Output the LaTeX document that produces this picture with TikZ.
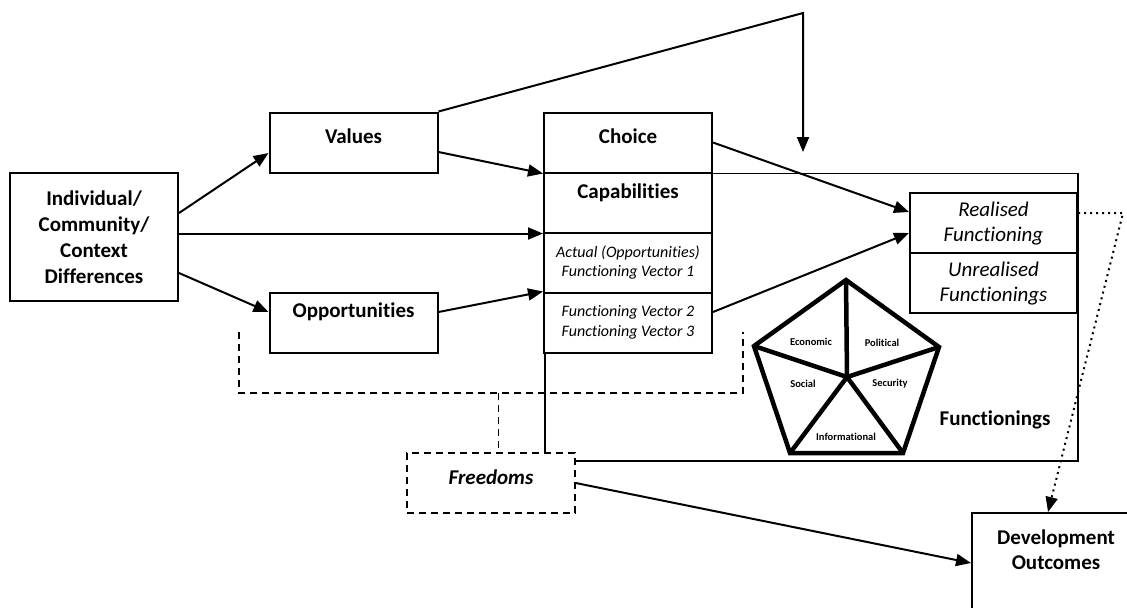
\documentclass[tikz,border=0pt]{standalone}
\usepackage{fontspec}
\setmainfont{Carlito}[Ligatures=NoCommon]
\usetikzlibrary{arrows.meta}
\tikzset{
  box/.style={draw, line width=1pt, fill=white, minimum width=84pt, minimum height=30pt, inner sep=2pt, align=center, font=\fontsize{10.5}{13}\selectfont\bfseries},
  cell/.style={box, font=\fontsize{8}{9.75}\selectfont\itshape},
  bigcell/.style={box, minimum width=83.5pt, font=\fontsize{10.5}{12.5}\selectfont\itshape},
  toptext/.style={text height=7.5pt, text depth=#1},
  conn/.style={-{Triangle[length=7.5pt,width=6pt]}, line width=1pt},
  brace/.style={line width=0.8pt, dash pattern=on 3.5pt off 2.5pt},
  penta/.style={line width=2.25pt, line join=miter},
  tiny/.style={font=\fontsize{5.25}{6}\selectfont\bfseries}
}
\begin{document}
\begin{tikzpicture}[x=0.5pt, y=-0.5pt]
\useasboundingbox (0,0) rectangle (1127,607);
\clip (0,0) rectangle (1127,607);
\node (funcarea) [draw, line width=0.75pt, minimum width=266.5pt, minimum height=143.75pt, anchor=north west, inner sep=0pt] at (544,172.5) {};
\node (funclbl) [font=\fontsize{10.5}{13}\selectfont\bfseries] at (995,420) {Functionings};
\node (ind) [box, minimum height=64pt] at (94,237) {Individual/\\Community/\\Context\\Differences};
\node (val) [box, toptext=6.2pt] at (353.5,142.5) {Values};
\node (opp) [box, toptext=12.2pt] at (353.5,322.5) {Opportunities};
\node (choice) [box, toptext=6.2pt] at (628,142.5) {Choice};
\node (cap) [box, toptext=11.2pt] at (628,202.5) {Capabilities};
\node (act) [cell] at (628,262.5) {Actual (Opportunities)\\Functioning Vector 1};
\node (fv) [cell] at (628,322.5) {Functioning Vector 2\\Functioning Vector 3};
\node (real) [bigcell] at (993.5,223) {Realised\\Functioning};
\node (unreal) [bigcell] at (993.5,283) {Unrealised\\Functionings};
\node (free) [box, brace, toptext=5.7pt, font=\fontsize{10.5}{13}\selectfont\bfseries\itshape] at (491,483) {Freedoms};
\node (dev) [box, anchor=north west, minimum height=70pt, label={[anchor=north, align=center, font=\fontsize{10.5}{12.5}\selectfont\bfseries, yshift=-5.5pt]north:Development\\Outcomes}] at (971,512) {};
\coordinate (pc) at (847,377);
\coordinate (p1) at (846,280);
\coordinate (p2) at (939,347);
\coordinate (p3) at (903,453);
\coordinate (p4) at (790,453);
\coordinate (p5) at (754,346);
\draw[penta] (p1) -- (p2) -- (p3) -- (p4) -- (p5) -- cycle;
\foreach \i in {1,...,5} \draw[penta] (pc) -- (p\i);
\node (econ) [tiny] at (811,342) {Economic};
\node (pol) [tiny] at (882,343) {Political};
\node (soc) [tiny] at (803,384) {Social};
\node (sec) [tiny] at (890,384) {Security};
\node (info) [tiny] at (846,437) {Informational};
\coordinate (peak) at (803,13);
\coordinate (drop) at (803,152);
\draw[conn] (val.north east) -- (peak) -- (drop);
\draw[conn] ([yshift=12pt]ind.east) -- ([yshift=-5.25pt]val.west);
\draw[conn] (ind.east |- cap.south west) -- (cap.south west);
\draw[conn] ([yshift=-18pt]ind.east) -- ([yshift=5.25pt]opp.west);
\draw[conn] ([yshift=-4.75pt]val.east) -- (choice.south west);
\draw[conn] ([yshift=5.25pt]opp.east) -- (fv.north west);
\draw[conn] (choice.east) -- ([yshift=5.5pt]real.west);
\draw[conn] ([yshift=5.25pt]fv.east) -- ([yshift=-5pt]real.west);
\draw[conn] (free.east) -- ([yshift=-25.5pt]dev.north west);
\coordinate (brL) at (239,332);
\coordinate (brR) at (743,332);
\coordinate (brM) at (498.5,393);
\draw[brace] (brL) |- (brR |- brM) -- (brR);
\draw[brace] (brM) -- (brM |- free.north);
\coordinate (dotc) at (1123,213);
\draw[conn, dotted] ([yshift=5pt]real.east) -- (dotc) -- ([xshift=38.5pt]dev.north west);
\end{tikzpicture}
\end{document}
